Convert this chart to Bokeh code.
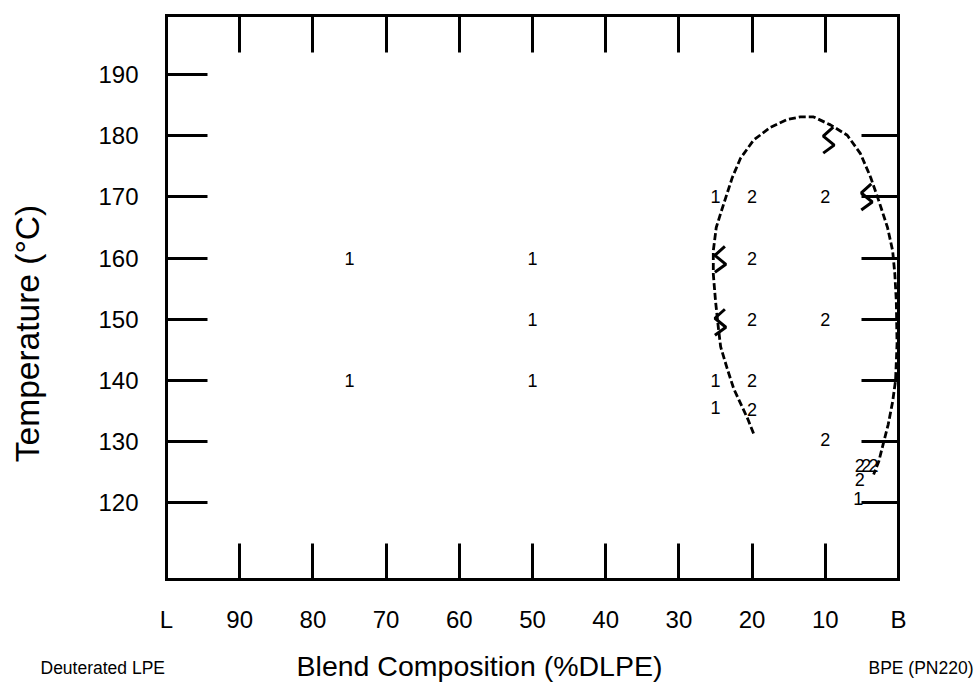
import math
from bokeh.plotting import figure
from bokeh.models import Range1d, LinearAxis, FixedTicker, Label, ColumnDataSource
from bokeh.core.properties import value
from bokeh.embed import file_html
from bokeh.resources import INLINE

# ---------------- data ----------------
y_ticks = [120, 130, 140, 150, 160, 170, 180, 190]
y_ticks_right = [120, 130, 140, 150, 160, 170, 180]
x_ticks = [0, 10, 20, 30, 40, 50, 60, 70, 80, 90, 100]
x_inner_ticks = [10, 20, 30, 40, 50, 60, 70, 80, 90]
x_label_overrides = {100: "L", 0: "B"}

# one-phase points ("1")
comp_1 = [75, 75, 50, 50, 50, 25, 25, 25, 5.5]
temp_1 = [160, 140, 160, 150, 140, 170, 140, 135.5, 120.7]

# two-phase points ("2")
comp_2 = [20, 20, 20, 20, 20, 10, 10, 10, 5.3, 4.4, 3.4, 5.3]
temp_2 = [170, 160, 150, 140, 135.3, 170, 150, 130.3, 126, 126, 126, 123.8]

# dashed phase boundary
curve_comp = [19.8, 20.6, 22.5, 23.4, 24.3, 24.6, 25.0, 25.3, 25.3, 24.9, 24.3, 23.6,
              22.7, 21.6, 19.8, 17.5, 15.2, 13.4, 11.6, 9.3, 7.0, 5.2, 3.8, 2.7,
              1.5, 0.8, 0.5, 0.3, 0.2, 0.4, 0.8, 1.4, 2.0, 2.7, 3.4]
curve_temp = [131.3, 133.7, 138.6, 141.9, 145.5, 148.5, 153.0, 157.4, 161.2, 165.0, 167.3, 169.9,
              173.2, 176.3, 179.3, 181.4, 182.7, 183.1, 183.1, 181.8, 180.1, 177.1, 173.2, 169.4,
              165.0, 161.2, 157.4, 153.0, 146.0, 140.0, 136.5, 132.8, 130.0, 126.7, 124.6]

# zigzag spinodal markers
zig_comp = [9.6, 4.4, 24.4, 24.4]
zig_temp = [179.3, 170.0, 159.8, 149.5]

# ---------------- geometry ----------------
W, H = 975, 684
BL, BR, BT, BB = 166, 898, 15, 579          # box edges in pixels
X_LEFT, X_RIGHT = 100.0, 0.0                # composition at box left / right
Y_BOT, Y_TOP = 107.4, 199.7                 # temperature at box bottom / top
sx = (BR - BL) / (X_LEFT - X_RIGHT)
sy = (BB - BT) / (Y_TOP - Y_BOT)

def px2x(px):
    return X_LEFT - (px - BL) / sx

def py2y(py):
    return Y_TOP - (py - BT) / sy

p = figure(width=W, height=H, output_backend="svg", toolbar_location=None,
           x_range=Range1d(px2x(0), px2x(W)), y_range=Range1d(py2y(H), py2y(0)),
           x_axis_location=None, y_axis_location=None,
           min_border=0, min_border_left=0, min_border_right=0,
           min_border_top=0, min_border_bottom=0)
p.outline_line_color = None
p.grid.visible = False
p.background_fill_color = "white"
p.border_fill_color = "white"

FONT = "Liberation Sans"

def mk_axis(ticks, loc, bounds, tick_len, labels=True, overrides=None, standoff=0, fs="24px"):
    ax = LinearAxis(ticker=FixedTicker(ticks=ticks), fixed_location=loc, bounds=bounds)
    ax.axis_line_width = 3
    ax.axis_line_color = "black"
    ax.axis_line_cap = "square"
    ax.major_tick_line_width = 3
    ax.major_tick_line_color = "black"
    ax.major_tick_in = tick_len
    ax.major_tick_out = 0
    ax.minor_tick_line_color = None
    ax.major_label_standoff = standoff
    ax.major_label_text_font = FONT
    ax.major_label_text_color = "black"
    if labels:
        ax.major_label_text_font_size = fs
        if overrides:
            ax.major_label_overrides = overrides
    else:
        ax.major_label_text_font_size = "0px"
        ax.major_label_text_color = None
    return ax

xb = (min(X_LEFT, X_RIGHT), max(X_LEFT, X_RIGHT))
yb = (Y_BOT, Y_TOP)
left = mk_axis(y_ticks, X_LEFT, yb, 41, True, None, 28)
right = mk_axis(y_ticks_right, X_RIGHT, yb, 37, False)
top = mk_axis(x_inner_ticks, Y_TOP, xb, 37, False)
bottom = mk_axis(x_ticks, Y_BOT, xb, 36, True, x_label_overrides, 26)
p.add_layout(left, "left")
p.add_layout(right, "right")
p.add_layout(top, "above")
p.add_layout(bottom, "below")

# dashed curve
p.line(curve_comp, curve_temp, line_color="black", line_width=2.8, line_dash="7 3")

# zigzag markers (shape offsets in screen pixels converted to data units)
zig_dx_px = [5, -5, 6, -5]
zig_dy_px = [-13, -4, 5, 13]
zxs, zys = [], []
for cx, cy in zip(zig_comp, zig_temp):
    zxs.append([cx - dx / sx for dx in zig_dx_px])
    zys.append([cy - dy / sy for dy in zig_dy_px])
p.multi_line(zxs, zys, line_color="black", line_width=3)

# point labels
src1 = ColumnDataSource(dict(x=comp_1, y=temp_1, t=["1"] * len(comp_1)))
src2 = ColumnDataSource(dict(x=comp_2, y=temp_2, t=["2"] * len(comp_2)))
for s in (src1, src2):
    p.text(x="x", y="y", text="t", source=s, text_font=value(FONT),
           text_font_size="18px", text_align="center", text_baseline="middle",
           text_color="black")

# titles and side labels
p.add_layout(Label(x=px2x(479), y=py2y(665), text="Blend Composition (%DLPE)",
                   text_font=FONT, text_font_size="28.5px", text_align="center",
                   text_baseline="middle", text_color="black"))
p.add_layout(Label(x=px2x(40), y=py2y(667), text="Deuterated LPE",
                   text_font=FONT, text_font_size="17.5px", text_align="left",
                   text_baseline="middle", text_color="black"))
p.add_layout(Label(x=px2x(973), y=py2y(667), text="BPE (PN220)",
                   text_font=FONT, text_font_size="17.5px", text_align="right",
                   text_baseline="middle", text_color="black"))
p.add_layout(Label(x=px2x(27), y=py2y(333), text="Temperature (°C)",
                   text_font=FONT, text_font_size="33.5px", text_align="center",
                   text_baseline="middle", angle=math.pi / 2, text_color="black"))

open("out.html", "w").write(file_html(p, INLINE))
